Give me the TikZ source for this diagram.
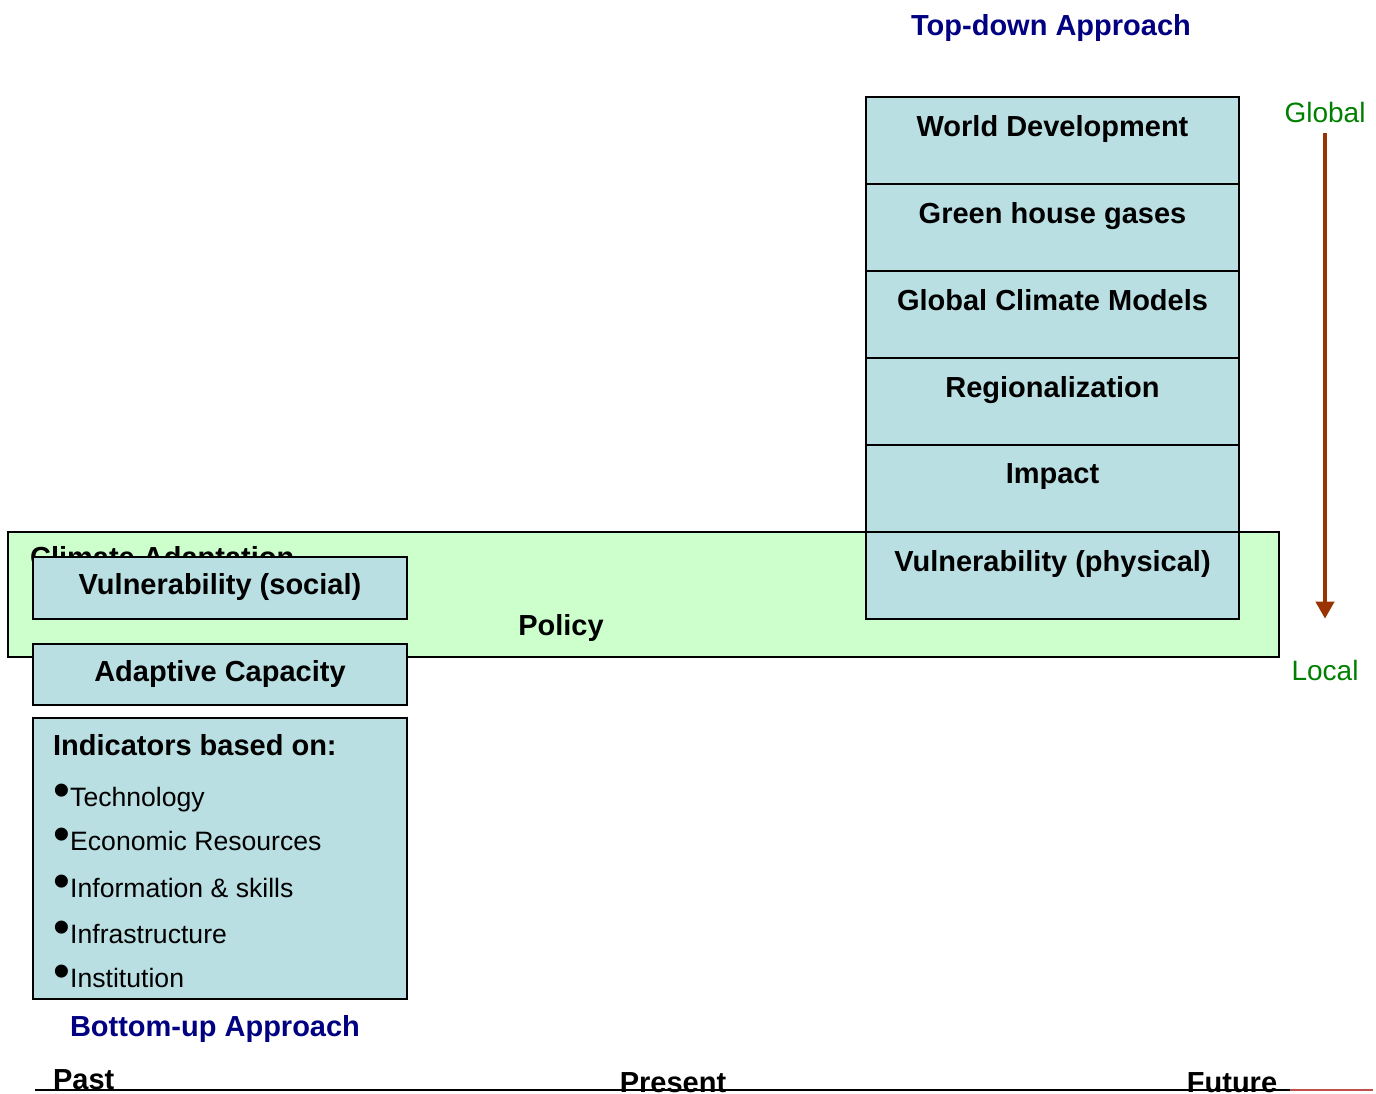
\documentclass[tikz,border=0pt]{standalone}
\usepackage{fontspec}
\setmainfont{Liberation Sans}
\usetikzlibrary{arrows.meta}
\definecolor{boxblue}{HTML}{B9DFE3}
\definecolor{adaptgreen}{HTML}{CCFFCC}
\definecolor{approachblue}{HTML}{000080}
\definecolor{scalegreen}{HTML}{008000}
\definecolor{arrowbrown}{HTML}{993300}
\definecolor{lineend}{HTML}{C0504D}
\tikzstyle{box} = [draw=black, line width=1.2pt, fill=boxblue]
\tikzstyle{boxtitle} = [font=\fontsize{14.5}{17}\selectfont\bfseries, text depth=0pt]
\tikzstyle{listitem} = [font=\fontsize{13.3}{16}\selectfont, anchor=west, inner sep=0pt, text depth=0pt]
\tikzstyle{approach} = [boxtitle, text=approachblue]
\tikzstyle{scalelabel} = [font=\fontsize{14}{16}\selectfont, text=scalegreen]
\tikzstyle{arrow} = [line width=2pt, draw=arrowbrown, -{Triangle[width=9pt,length=8.5pt]}]
\newcommand{\bigbullet}{\raisebox{0pt}{\fontsize{24}{24}\selectfont\textbullet}}

\begin{document}
\begin{tikzpicture}[x=0.5pt,y=-0.5pt]
\useasboundingbox (0,0) rectangle (1376,1093);

% Climate adaptation band
\draw[line width=1.2pt, fill=adaptgreen] (8,532) rectangle (1279,657);
\node[boxtitle, anchor=west] (adapt) at (23,557) {Climate Adaptation};
\node[boxtitle] (policy) at (561,625) {Policy};

% Top-down stack
\node[approach] (topdown) at (1051,25) {Top-down Approach};
\foreach \y/\name/\txt in {97/world/World Development, 184/ghg/Green house gases,
  271/gcm/Global Climate Models, 358/region/Regionalization, 445/impact/Impact,
  532/vulphys/Vulnerability (physical)}{
  \draw[box] (866,\y) rectangle (1239,\y+87); % row
  \node[boxtitle] (\name) at (1052.5,\y+29) {\txt};
}

% Global to local
\node[scalelabel] (global) at (1325,112) {Global};
\node[scalelabel] (local) at (1325,670) {Local};
\draw[arrow, shorten <=2pt, shorten >=17pt] (global) -- (local);

% Bottom-up boxes
\draw[box] (33,557) rectangle (407,619);
\node[boxtitle] (vulsoc) at (220,584) {Vulnerability (social)};
\draw[box] (33,644) rectangle (407,705);
\node[boxtitle] (capacity) at (220,671) {Adaptive Capacity};
\draw[box] (33,718) rectangle (407,999);
\node[boxtitle, anchor=west] (indicators) at (46,745) {Indicators based on:};
\foreach \y/\name/\txt in {795/tech/Technology, 839/econ/Economic Resources,
  886/info/Information \& skills, 932/infra/Infrastructure, 976/inst/Institution}{
  \node[listitem] (\name) at (53,\y) {\bigbullet\txt};
}
\node[approach] (bottomup) at (215,1026) {Bottom-up Approach};

% Time line
\node[boxtitle, anchor=west] (past) at (46,1080) {Past};
\node[boxtitle] (present) at (673,1083) {Present};
\node[boxtitle] (future) at (1232,1083) {Future};
\coordinate (tstart) at (35,1090);
\coordinate (tmid) at (1290,1090);
\coordinate (tend) at (1373,1090);
\draw[line width=1.2pt] (tstart) -- (tmid);
\draw[line width=1.2pt, lineend] (tmid) -- (tend);
\end{tikzpicture}
\end{document}
